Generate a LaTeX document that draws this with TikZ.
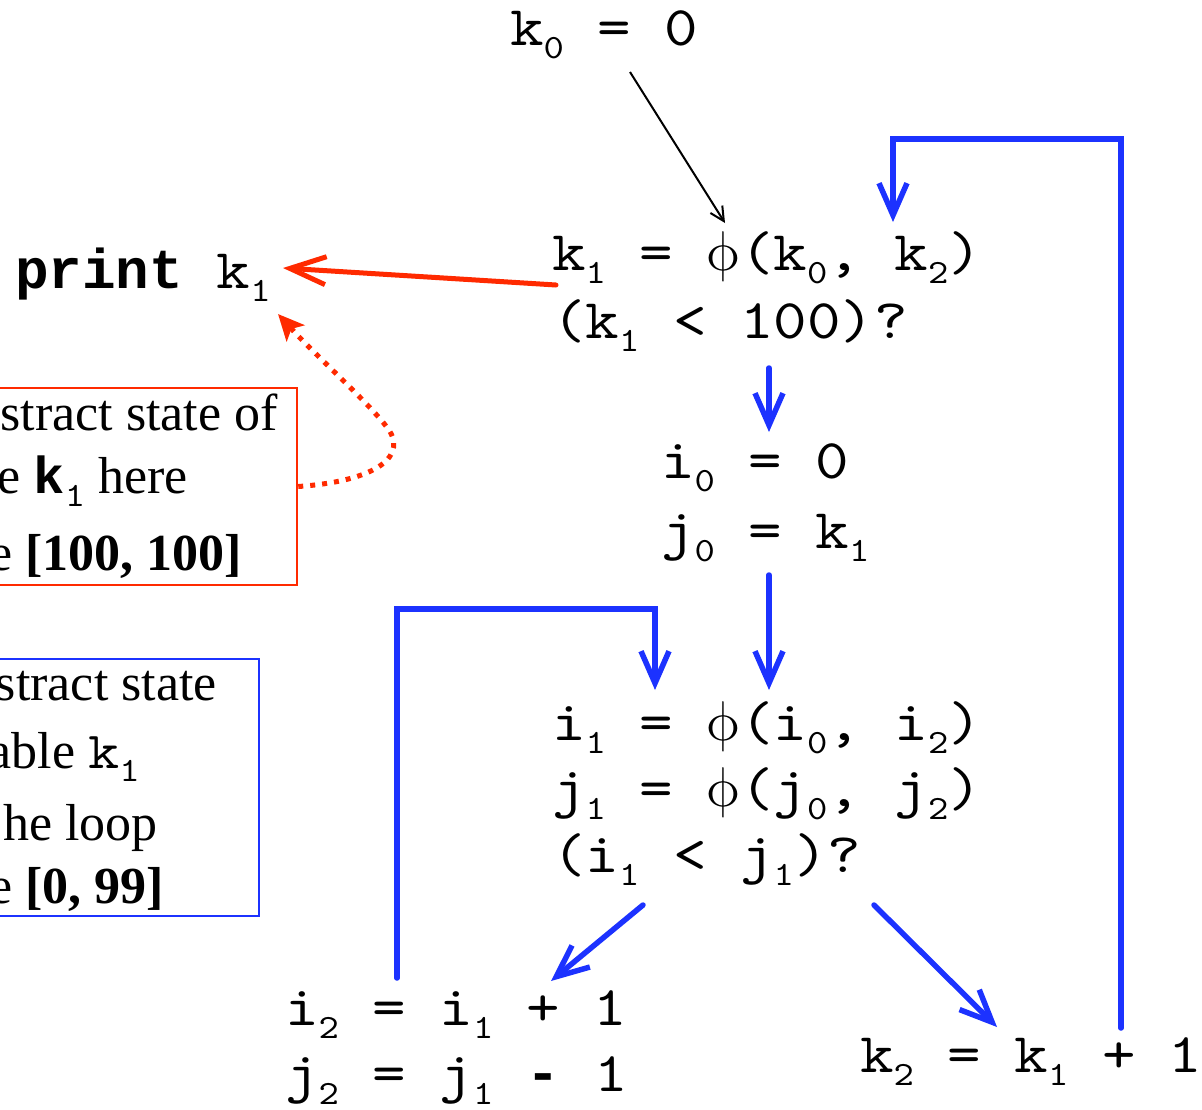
\RequirePackage{fix-cm}
\documentclass[tikz,border=0pt]{standalone}
\usepackage{fontspec}
\setmainfont{Liberation Serif}
\newfontfamily\mono[FakeStretch=1.14]{lmmono10-regular.otf}
\newfontfamily\monob{Liberation Mono}
\newfontfamily\lmmath{latinmodern-math.otf}
\usetikzlibrary{arrows.meta}
\definecolor{myblue}{RGB}{28,50,255}
\definecolor{myred}{RGB}{255,42,0}
\newcommand\sbx[1]{\raisebox{-13pt}{\fontsize{34}{34}\selectfont #1}}
\newcommand\phx{\makebox[33.5pt]{\lmmath ϕ}}
\begin{document}
\begin{tikzpicture}[x=1pt,y=-1pt,
  code/.style={font=\mono\fontsize{56}{60}\selectfont, inner sep=0pt, anchor=base west},
  note/.style={font=\fontsize{52}{56}\selectfont, inner sep=0pt, anchor=base east},
  bluearr/.style={draw=myblue, line width=5.5pt, line cap=round, line join=miter,
     -{Straight Barb[length=32pt,width=28pt]}},
  redarr/.style={draw=myred, line width=5pt, line cap=round,
     -{Straight Barb[length=36pt,width=28pt]}},
  reddot/.style={draw=myred, line width=5pt, dash pattern=on 5pt off 7pt,
     -{Stealth[length=26pt,width=24pt,inset=6pt]}},
  blackarr/.style={draw=black, line width=2pt, -{Straight Barb[length=14pt,width=14pt]}},
  notebox/.style={draw, line width=2.5pt, inner sep=0pt}]
\useasboundingbox (0,0) rectangle (1202,1109);
\clip (0,0) rectangle (1202,1109);

% code text
\node[code] (k0) at (510,45) {k\sbx{0} = 0};
\node[code] (k1) at (552,270) {k\sbx{1} = \phx(k\sbx{0}, k\sbx{2})};
\node[code] (kc) at (552,338) {(k\sbx{1} < 100)?};
\node[code] (i0) at (661,478) {i\sbx{0} = 0};
\node[code] (j0) at (661,548) {j\sbx{0} = k\sbx{1}};
\node[code] (i1) at (552,740) {i\sbx{1} = \phx(i\sbx{0}, i\sbx{2})};
\node[code] (j1) at (552,806) {j\sbx{1} = \phx(j\sbx{0}, j\sbx{2})};
\node[code] (ic) at (552,872) {(i\sbx{1} < j\sbx{1})?};
\node[code] (i2) at (285,1025) {i\sbx{2} = i\sbx{1} + 1};
\node[code] (j2) at (285,1091) {j\sbx{2} = j\sbx{1} {\monob\bfseries -} 1};
\node[code] (k2) at (860,1072) {k\sbx{2} = k\sbx{1} + 1};
\node[code] (pr) at (15,288) {{\monob\bfseries print} k\sbx{1}};

% note boxes
\node[notebox, draw=myred, minimum width=312pt, minimum height=197pt] (redbox) at (141,486.5) {};
\node[note] (r1) at (278,430) {stract state of};
\node[note] (r2) at (188,493) {e {\monob\fontsize{52}{56}\selectfont\bfseries k}{\mono\fontsize{52}{56}\selectfont\sbx{1}} here};
\node[note] (r3) at (242,570) {e \textbf{[100, 100]}};

\node[notebox, draw=myblue, minimum width=274pt, minimum height=257pt] (bluebox) at (122,787.5) {};
\node[note] (b1) at (217,700) {stract state};
\node[note] (b2) at (140,768) {able {\mono\fontsize{52}{56}\selectfont k\sbx{1}}};
\node[note] (b3) at (158,840) {he loop};
\node[note] (b4) at (164,903) {e \textbf{[0, 99]}};

% connector end points
\coordinate (k0s) at (630,72);   \coordinate (k1t) at (725,223);
\coordinate (rs) at (556,285);   \coordinate (rt) at (283,268);
\coordinate (dt) at (278,314);
\coordinate (a1s) at (769,368);  \coordinate (a1t) at (769,432);
\coordinate (a2s) at (769,575);  \coordinate (a2t) at (769,690);
\coordinate (l1s) at (397,978);  \coordinate (l1c) at (655,609); \coordinate (l1t) at (655,690);
\coordinate (l2s) at (1121,1028); \coordinate (l2c) at (893,139); \coordinate (l2t) at (893,222);
\coordinate (d1s) at (643,905);  \coordinate (d1t) at (551,981);
\coordinate (d2s) at (874,905);  \coordinate (d2t) at (997,1027);

% connectors
\draw[blackarr] (k0s) -- (k1t);
\draw[redarr] (rs) -- (rt);
\draw[reddot] (redbox.east) .. controls (378,481) and (410,455) .. (386,426)
   .. controls (362,396) and (318,358) .. (dt);
\draw[bluearr] (a1s) -- (a1t);
\draw[bluearr] (a2s) -- (a2t);
\draw[bluearr] (l1s) |- (l1c) -- (l1t);
\draw[bluearr] (l2s) |- (l2c) -- (l2t);
\draw[bluearr] (d1s) -- (d1t);
\draw[bluearr] (d2s) -- (d2t);
\end{tikzpicture}
\end{document}
